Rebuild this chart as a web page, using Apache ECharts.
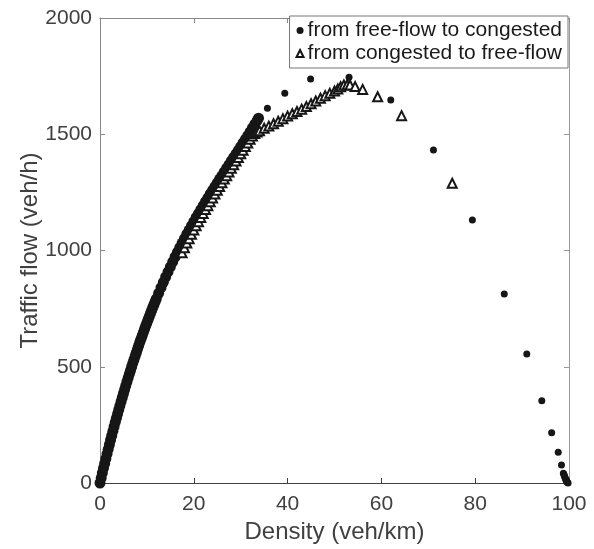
<!DOCTYPE html>
<html>
<head>
<meta charset="utf-8">
<script src="https://cdn.jsdelivr.net/npm/echarts@6/dist/echarts.min.js"></script>
<style>
  html, body { margin: 0; padding: 0; background: #fff; }
  #main { width: 594px; height: 549px; }
</style>
</head>
<body>
<div id="main"></div>
<script>
// dense part of the free-flow -> congested branch (density veh/km, flow veh/h)
let ffDenseK = [0, 0.25, 0.5, 0.75, 1, 1.25, 1.5, 1.75, 2, 2.25, 2.5, 2.75, 3, 3.25, 3.5, 3.75,
  4, 4.25, 4.5, 4.75, 5, 5.25, 5.5, 5.75, 6, 6.25, 6.5, 6.75, 7, 7.25, 7.5, 7.75,
  8, 8.25, 8.5, 8.75, 9, 9.25, 9.5, 9.75, 10, 10.25, 10.5, 10.75, 11, 11.25, 11.5, 11.75,
  12, 12.5, 13, 13.5, 14, 14.5, 15, 15.5, 16, 16.5, 17, 17.5, 18, 18.5, 19, 19.5,
  20, 20.5, 21, 21.5, 22, 22.5, 23, 23.5, 24, 24.5, 25, 25.5, 26, 26.5, 27, 27.5,
  28, 28.5, 29, 29.5, 30, 30.5, 31, 31.5, 32, 32.5, 33, 33.5, 33.8];
let ffDenseQ = [0, 21, 43, 64, 84, 105, 125, 145, 165, 185, 204, 223, 242, 261, 279, 297,
  315, 333, 351, 368, 385, 402, 419, 436, 452, 468, 484, 500, 516, 531, 546, 561,
  576, 591, 606, 620, 634, 648, 662, 676, 689, 703, 716, 729, 742, 755, 767, 780,
  792, 816, 840, 863, 886, 908, 930, 951, 972, 992, 1012, 1032, 1051, 1070, 1088, 1106,
  1124, 1142, 1159, 1176, 1193, 1210, 1226, 1243, 1259, 1275, 1291, 1307, 1322, 1338, 1354, 1369,
  1385, 1400, 1416, 1431, 1447, 1463, 1478, 1494, 1510, 1527, 1543, 1559, 1569];

// sparse part of the free-flow -> congested branch
let ffSparseK = [35.7, 39.4, 44.9, 53.1, 62.0, 71.1, 79.4, 86.2, 91.0, 94.2, 96.3, 97.7, 98.4,
  98.8, 98.9, 99.0, 99.1, 99.2, 99.3, 99.4, 99.5, 99.6, 99.7, 99.8];
let ffSparseQ = [1612, 1676, 1738, 1745, 1647, 1432, 1131, 813, 555, 354, 216, 132, 77,
  42, 38, 32, 26, 21, 16, 11, 7, 4, 2, 0];

// congested -> free-flow branch
let cgK = [17.5, 18, 18.5, 19, 19.5, 20, 20.5, 21, 21.5, 22, 22.5, 23, 23.5, 24, 24.5, 25,
  25.5, 26, 26.5, 27, 27.5, 28, 28.5, 29, 29.5, 30, 30.5, 31, 31.5, 32, 32.5, 33, 33.5,
  34, 35, 36, 37, 38, 39, 40, 41, 42, 43, 44, 45, 46, 47, 48, 49, 50, 50.7, 51.3, 52,
  52.7, 53.3, 54.4, 56.0, 59.2, 64.3, 75.1];
let cgQ = [990, 1012, 1032, 1051, 1070, 1088, 1106, 1124, 1142, 1159, 1176, 1193, 1210, 1226, 1243, 1259,
  1275, 1291, 1307, 1322, 1338, 1354, 1369, 1385, 1400, 1416, 1431, 1447, 1462, 1478, 1492, 1503, 1510,
  1515, 1526, 1535, 1545, 1556, 1567, 1578, 1588, 1598, 1608, 1619, 1631, 1643, 1655, 1666, 1676, 1686, 1695, 1704, 1712,
  1713, 1712, 1705, 1693, 1661, 1580, 1289];

let xTicks = { min: 0, max: 100, interval: 20 };
let yTicks = { min: 0, max: 2000, interval: 500 };

let names = ["from free-flow to congested", "from congested to free-flow"];

let zip = (a, b) => a.map((v, i) => [v, b[i]]);

let font = "Liberation Sans, Arial, Helvetica, sans-serif";
let labelColor = "#404040";

let myChart = echarts.init(document.getElementById("main"));

// оси: основная (с подписями) и зеркальная для рамки
let baseAxis = (t, color) => ({
  type: "value",
  min: t.min,
  max: t.max,
  interval: t.interval,
  splitLine: { show: false },
  axisLine: { show: true, onZero: false, lineStyle: { color: color, width: 1 } },
  axisTick: { show: true, inside: true, length: 5, lineStyle: { color: color } },
});

myChart.setOption({
  animation: false,
  textStyle: { fontFamily: font },
  grid: { left: 100, right: 25, top: 18, bottom: 66 },
  legend: {
    data: names,
    orient: "vertical",
    right: 26,
    top: 16,
    backgroundColor: "#fff",
    borderColor: "#777",
    borderWidth: 1,
    borderRadius: 0,
    padding: [4, 6, 4, 6],
    itemGap: 2,
    itemWidth: 7,
    itemHeight: 7,
    textStyle: { fontSize: 21, color: "#1a1a1a", fontFamily: font, padding: [0, 0, 0, -1] },
  },
  xAxis: [
    Object.assign(baseAxis(xTicks, "#404040"), {
      position: "bottom",
      name: "Density (veh/km)",
      nameLocation: "middle",
      nameGap: 37,
      nameMoveOverlap: false,
      nameTextStyle: { fontSize: 24, color: labelColor, fontFamily: font },
      axisLabel: { fontSize: 21, color: labelColor, margin: 11, fontFamily: font },
    }),
    Object.assign(baseAxis(xTicks, "#888"), {
      position: "top",
      axisLabel: { show: false },
    }),
  ],
  yAxis: [
    Object.assign(baseAxis(yTicks, "#888"), {
      position: "left",
      name: "Traffic flow (veh/h)",
      nameLocation: "middle",
      nameGap: 58,
      nameMoveOverlap: false,
      nameTextStyle: { fontSize: 24, color: labelColor, fontFamily: font },
      axisLabel: {
        fontSize: 21,
        color: labelColor,
        margin: 8,
        fontFamily: font,
        formatter: (v) => String(v),
      },
    }),
    Object.assign(baseAxis(yTicks, "#999"), {
      position: "right",
      axisLabel: { show: false },
    }),
  ],
  series: [
    {
      name: names[0],
      type: "scatter",
      symbol: "circle",
      symbolSize: 11,
      data: zip(ffDenseK, ffDenseQ),
      itemStyle: { color: "#161616", opacity: 1 },
    },
    {
      name: names[0],
      type: "scatter",
      symbol: "circle",
      symbolSize: 7,
      data: zip(ffSparseK, ffSparseQ),
      itemStyle: { color: "#161616", opacity: 1 },
    },
    {
      name: names[1],
      type: "scatter",
      symbol: "triangle",
      symbolSize: 9,
      data: zip(cgK, cgQ),
      itemStyle: { color: "#fff", borderColor: "#161616", borderWidth: 2, opacity: 1 },
    },
  ],
});

window.addEventListener("resize", function () {
  myChart.resize();
});
</script>
</body>
</html>
